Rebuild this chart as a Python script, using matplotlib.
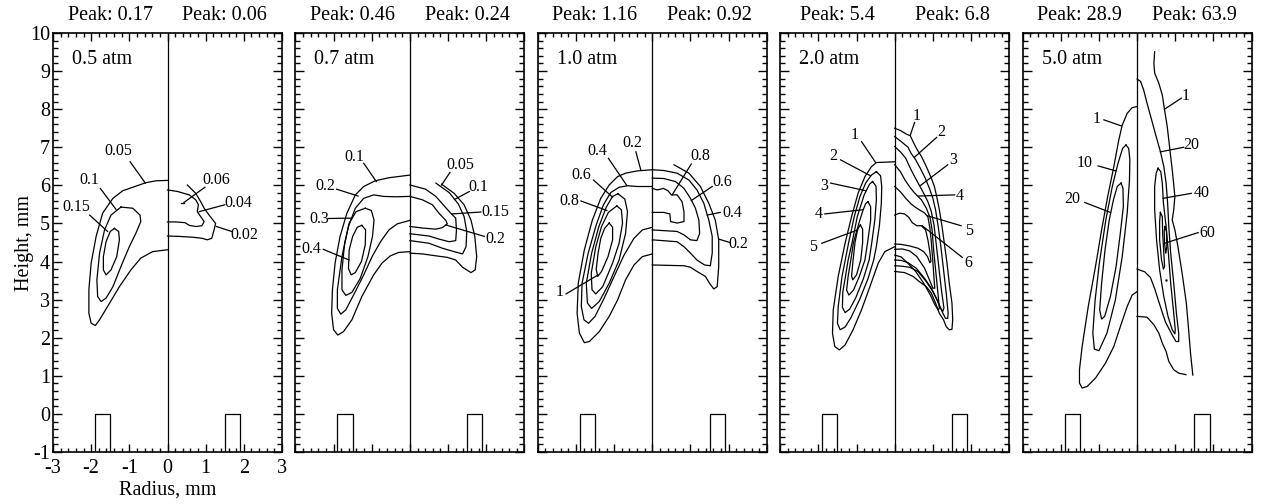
import matplotlib
matplotlib.use("Agg")
import matplotlib.pyplot as plt
from matplotlib.ticker import MultipleLocator

plt.rcParams['font.family'] = ['Liberation Serif', 'DejaVu Serif']
plt.rcParams['axes.unicode_minus'] = False

# ---------------------------------------------------------------------------
# Panel annotations
# ---------------------------------------------------------------------------
PRESSURES = ["0.5 atm", "0.7 atm", "1.0 atm", "2.0 atm", "5.0 atm"]
PEAK_LEFT = ["0.17", "0.46", "1.16", "5.4", "28.9"]
PEAK_RIGHT = ["0.06", "0.24", "0.92", "6.8", "63.9"]

# electrode edges (mm), mirrored about r = 0, top at z = 0
ELECTRODE_R = [1.5, 1.9]
ELECTRODE_TOP = 0.0

# ---------------------------------------------------------------------------
# Contour lines: (radius, height) in mm
# left half = computed, right half = measured
# ---------------------------------------------------------------------------
P05_LEFT = [
    [(0, 4.31), (-0.39, 4.26), (-0.70, 4.09), (-0.96, 3.78), (-1.26, 3.34), (-1.57, 2.82),
     (-1.78, 2.47), (-1.89, 2.32), (-2.0, 2.38), (-2.06, 2.64), (-2.06, 3.26), (-2.0, 3.96),
     (-1.87, 4.66), (-1.70, 5.27), (-1.43, 5.66), (-1.17, 5.86), (-0.91, 5.95), (-0.57, 6.07),
     (-0.30, 6.12), (0, 6.13)],
    [(-1.22, 5.43), (-0.91, 5.40), (-0.72, 5.22), (-0.70, 5.05), (-0.83, 4.74), (-1.0, 4.39),
     (-1.22, 3.87), (-1.43, 3.34), (-1.61, 3.04), (-1.74, 2.95), (-1.83, 3.08), (-1.85, 3.52),
     (-1.78, 4.22), (-1.65, 4.83), (-1.48, 5.22), (-1.22, 5.43)],
    [(-1.39, 4.87), (-1.28, 4.79), (-1.26, 4.57), (-1.33, 4.13), (-1.48, 3.78), (-1.61, 3.65),
     (-1.68, 3.78), (-1.68, 4.13), (-1.61, 4.52), (-1.50, 4.79), (-1.39, 4.87)],
]
P05_RIGHT = [
    [(0, 4.67), (0.30, 4.66), (0.65, 4.64), (0.91, 4.61), (1.04, 4.57), (1.16, 4.61),
     (1.22, 4.83), (1.26, 5.0), (1.09, 5.22), (0.96, 5.40), (0.87, 5.57), (0.74, 5.79),
     (0.52, 6.01)],
    [(0, 5.88), (0.26, 5.84), (0.57, 5.75), (0.74, 5.62), (0.81, 5.49), (0.78, 5.31),
     (0.87, 5.18), (0.96, 5.05), (0.90, 4.94), (0.74, 4.92), (0.57, 4.95), (0.46, 5.02),
     (0.22, 5.04), (0, 5.04)],
    [(0.35, 5.55), (0.43, 5.55)],
]
LABELS_05 = [
    ("0.05", -1.30, 6.89, -0.98, 6.62, -0.58, 6.06),
    ("0.1", -2.06, 6.14, -1.76, 5.92, -1.35, 5.37),
    ("0.15", -2.39, 5.43, -2.04, 5.22, -1.57, 4.79),
    ("0.06", 1.28, 6.13, 0.98, 5.95, 0.43, 5.55),
    ("0.04", 1.85, 5.53, 1.50, 5.49, 0.83, 5.31),
    ("0.02", 2.0, 4.70, 1.68, 4.79, 1.28, 4.92),
]

P07_LEFT = [
    [(0, 4.26), (-0.29, 4.24), (-0.51, 4.15), (-0.73, 3.96), (-0.95, 3.65), (-1.26, 3.08),
     (-1.52, 2.47), (-1.74, 2.16), (-1.89, 2.07), (-2.0, 2.21), (-2.05, 2.64), (-2.03, 3.26),
     (-1.96, 3.96), (-1.83, 4.66), (-1.65, 5.27), (-1.43, 5.75), (-1.21, 5.97), (-0.91, 6.12),
     (-0.55, 6.20), (0, 6.27)],
    [(0, 5.71), (-0.38, 5.70), (-0.69, 5.71), (-0.95, 5.75), (-1.21, 5.66), (-1.43, 5.40),
     (-1.61, 4.92), (-1.78, 4.13), (-1.90, 3.26), (-1.90, 2.77), (-1.81, 2.62), (-1.68, 2.73),
     (-1.43, 3.21), (-1.21, 3.65), (-0.99, 4.13), (-0.77, 4.52), (-0.55, 4.83), (-0.33, 4.99),
     (0, 5.08)],
    [(-1.17, 5.40), (-1.01, 5.34), (-0.94, 5.09), (-0.98, 4.66), (-1.10, 4.13), (-1.30, 3.56),
     (-1.52, 3.19), (-1.68, 3.11), (-1.78, 3.26), (-1.78, 3.78), (-1.71, 4.48), (-1.59, 5.01),
     (-1.41, 5.31), (-1.17, 5.40)],
    [(-1.26, 4.95), (-1.16, 4.83), (-1.17, 4.44), (-1.27, 4.0), (-1.43, 3.71), (-1.54, 3.65),
     (-1.61, 3.82), (-1.59, 4.31), (-1.50, 4.66), (-1.38, 4.90), (-1.26, 4.95)],
]
P07_RIGHT = [
    [(0.83, 6.03), (1.16, 5.79), (1.42, 5.49), (1.60, 5.09), (1.70, 4.66), (1.75, 4.13),
     (1.71, 3.78), (1.60, 3.71), (1.38, 3.85), (1.20, 4.04), (0.98, 4.11), (0.68, 4.15),
     (0.33, 4.20), (0, 4.22)],
    [(0.68, 6.06), (1.03, 5.81), (1.27, 5.51), (1.42, 5.18), (1.49, 4.79), (1.47, 4.39),
     (1.38, 4.20), (1.16, 4.26), (0.85, 4.35), (0.50, 4.48), (0, 4.55)],
    [(0, 6.01), (0.41, 5.90), (0.68, 5.71), (0.90, 5.46), (1.07, 5.27), (1.20, 5.14),
     (1.22, 4.83), (1.20, 4.55), (1.03, 4.52), (0.76, 4.59), (0.50, 4.67), (0, 4.73)],
    [(0, 5.71), (0.33, 5.62), (0.59, 5.49), (0.76, 5.27), (0.94, 5.08), (0.98, 4.99),
     (0.85, 4.89), (0.68, 4.85), (0.33, 4.88), (0, 4.92)],
]
LABELS_07 = [
    ("0.1", -1.45, 6.74, -1.21, 6.58, -0.88, 6.10),
    ("0.2", -2.21, 5.99, -1.92, 5.90, -1.36, 5.72),
    ("0.3", -2.38, 5.11, -2.14, 5.13, -1.52, 5.14),
    ("0.4", -2.59, 4.32, -2.27, 4.32, -1.59, 4.04),
    ("0.05", 1.31, 6.54, 1.05, 6.34, 0.83, 6.01),
    ("0.1", 1.80, 5.97, 1.56, 5.84, 1.17, 5.63),
    ("0.15", 2.24, 5.29, 1.86, 5.30, 1.10, 5.25),
    ("0.2", 2.24, 4.59, 1.95, 4.66, 0.94, 4.96),
]

P10_LEFT = [
    [(0, 6.41), (-0.39, 6.38), (-0.70, 6.32), (-0.91, 6.23), (-1.13, 6.01), (-1.35, 5.66),
     (-1.57, 5.09), (-1.78, 4.31), (-1.94, 3.43), (-1.97, 2.64), (-1.91, 2.12), (-1.78, 1.87),
     (-1.65, 1.90), (-1.39, 2.16), (-1.13, 2.56), (-0.91, 2.99), (-0.70, 3.52), (-0.48, 3.91),
     (-0.26, 4.13), (0, 4.20)],
    [(0, 5.97), (-0.39, 5.97), (-0.65, 5.99), (-0.87, 5.95), (-1.09, 5.81), (-1.28, 5.49),
     (-1.47, 4.96), (-1.68, 4.22), (-1.84, 3.43), (-1.86, 2.82), (-1.79, 2.47), (-1.67, 2.38),
     (-1.50, 2.56), (-1.26, 3.04), (-1.0, 3.61), (-0.74, 4.17), (-0.48, 4.61), (-0.26, 4.83),
     (0, 4.90)],
    [(-0.90, 5.78), (-0.72, 5.64), (-0.65, 5.31), (-0.70, 4.74), (-0.87, 4.04), (-1.13, 3.43),
     (-1.39, 2.95), (-1.59, 2.77), (-1.70, 2.91), (-1.73, 3.43), (-1.59, 4.22), (-1.40, 4.92),
     (-1.20, 5.44), (-1.04, 5.71), (-0.90, 5.78)],
    [(-0.93, 5.46), (-0.81, 5.36), (-0.78, 5.01), (-0.87, 4.48), (-1.04, 3.96), (-1.30, 3.34),
     (-1.48, 3.15), (-1.58, 3.26), (-1.60, 3.69), (-1.48, 4.39), (-1.33, 4.92), (-1.15, 5.29),
     (-0.93, 5.46)],
    [(-1.13, 5.01), (-1.04, 4.90), (-1.04, 4.57), (-1.16, 4.13), (-1.33, 3.74), (-1.43, 3.61),
     (-1.47, 3.79), (-1.42, 4.22), (-1.35, 4.61), (-1.25, 4.87), (-1.13, 5.01)],
]
P10_RIGHT = [
    [(0.57, 6.54), (0.96, 6.32), (1.26, 5.97), (1.48, 5.53), (1.65, 5.09), (1.74, 4.57),
     (1.74, 3.87), (1.70, 3.34), (1.61, 3.28), (1.50, 3.43), (1.39, 3.61), (1.17, 3.74),
     (1.0, 3.85), (0.83, 3.89), (0, 3.91)],
    [(0, 6.41), (0.30, 6.39), (0.65, 6.32), (0.96, 6.14), (1.17, 5.88), (1.35, 5.53),
     (1.48, 5.09), (1.57, 4.66), (1.57, 4.22), (1.52, 3.89), (1.37, 3.91), (1.17, 4.04),
     (1.0, 4.22), (0.83, 4.39), (0.65, 4.52), (0, 4.57)],
    [(0, 6.19), (0.30, 6.18), (0.61, 6.10), (0.83, 5.92), (1.0, 5.66), (1.13, 5.40),
     (1.22, 5.09), (1.24, 4.74), (1.17, 4.55), (1.0, 4.57), (0.83, 4.70), (0.65, 4.79),
     (0, 4.83)],
    [(0, 5.92), (0.13, 5.88), (0.29, 5.92), (0.41, 5.86), (0.50, 5.75), (0.65, 5.75),
     (0.78, 5.57), (0.83, 5.31), (0.83, 5.05), (0.65, 5.01), (0.48, 5.05), (0.46, 5.25),
     (0.30, 5.29), (0, 5.29)],
]
LABELS_10 = [
    ("0.2", -0.52, 7.10, -0.43, 6.88, -0.30, 6.40),
    ("0.4", -1.43, 6.89, -1.15, 6.71, -0.67, 6.0),
    ("0.6", -1.87, 6.27, -1.54, 6.14, -1.04, 5.69),
    ("0.8", -2.17, 5.60, -1.87, 5.59, -1.19, 5.34),
    ("1", -2.43, 3.19, -2.26, 3.15, -1.42, 3.65),
    ("0.8", 1.26, 6.76, 1.02, 6.56, 0.52, 5.75),
    ("0.6", 1.83, 6.10, 1.57, 5.97, 1.02, 5.60),
    ("0.4", 2.09, 5.27, 1.78, 5.29, 1.44, 5.22),
    ("0.2", 2.26, 4.46, 2.03, 4.50, 1.74, 4.59),
]

P20_LEFT = [
    [(0, 6.62), (-0.22, 6.61), (-0.48, 6.60), (-0.61, 6.49), (-0.78, 6.23), (-0.96, 5.79),
     (-1.13, 5.18), (-1.30, 4.48), (-1.48, 3.61), (-1.61, 2.73), (-1.63, 2.12), (-1.57, 1.77),
     (-1.45, 1.68), (-1.30, 1.81), (-1.09, 2.21), (-0.87, 2.73), (-0.65, 3.34), (-0.43, 3.96),
     (-0.26, 4.26), (0, 4.39)],
    [(-0.48, 6.36), (-0.37, 6.25), (-0.34, 5.97), (-0.35, 5.53), (-0.40, 4.95), (-0.48, 4.40),
     (-0.55, 4.04), (-0.70, 3.55), (-0.92, 3.0), (-1.15, 2.52), (-1.30, 2.28), (-1.43, 2.21),
     (-1.50, 2.38), (-1.48, 2.82), (-1.38, 3.61), (-1.21, 4.48), (-1.06, 5.18), (-0.91, 5.71),
     (-0.76, 6.06), (-0.61, 6.27), (-0.48, 6.36)],
    [(-0.58, 6.10), (-0.49, 5.98), (-0.48, 5.62), (-0.52, 5.10), (-0.60, 4.50), (-0.67, 4.04),
     (-0.82, 3.55), (-1.02, 3.05), (-1.18, 2.75), (-1.30, 2.66), (-1.37, 2.80), (-1.36, 3.20),
     (-1.29, 3.61), (-1.22, 4.04), (-1.12, 4.48), (-0.98, 5.18), (-0.80, 5.75), (-0.66, 6.03),
     (-0.58, 6.10)],
    [(-0.70, 5.57), (-0.63, 5.44), (-0.63, 5.09), (-0.70, 4.57), (-0.78, 4.04), (-0.93, 3.60),
     (-1.08, 3.25), (-1.20, 3.12), (-1.26, 3.25), (-1.22, 3.61), (-1.15, 4.04), (-1.08, 4.50),
     (-0.94, 5.0), (-0.83, 5.35), (-0.76, 5.52), (-0.70, 5.57)],
    [(-0.90, 4.96), (-0.84, 4.85), (-0.84, 4.50), (-0.89, 4.04), (-1.0, 3.65), (-1.10, 3.52),
     (-1.13, 3.62), (-1.09, 4.04), (-1.04, 4.50), (-0.97, 4.85), (-0.90, 4.96)],
]
P20_RIGHT = [
    [(0, 7.50), (0.15, 7.44), (0.30, 7.35), (0.41, 7.30), (0.48, 7.15), (0.57, 6.97),
     (0.70, 6.76), (0.83, 6.49), (0.96, 6.19), (1.04, 5.97), (1.10, 5.71), (1.17, 5.36),
     (1.24, 4.92), (1.30, 4.48), (1.37, 3.96), (1.43, 3.43), (1.50, 2.91), (1.52, 2.47),
     (1.50, 2.22), (1.43, 2.21), (1.35, 2.29), (1.28, 2.47), (1.17, 2.64), (1.07, 2.91),
     (0.96, 3.17), (0.83, 3.34), (0.65, 3.47), (0.48, 3.61), (0.26, 3.71), (0, 3.74)],
    [(0, 7.28), (0.17, 7.15), (0.35, 7.0), (0.43, 6.84), (0.55, 6.67), (0.67, 6.45),
     (0.80, 6.19), (0.91, 5.92), (1.0, 5.66), (1.07, 5.36), (1.14, 4.92), (1.21, 4.39),
     (1.28, 3.78), (1.35, 3.17), (1.40, 2.64), (1.39, 2.51), (1.33, 2.51), (1.24, 2.69),
     (1.13, 2.95), (1.0, 3.21), (0.83, 3.47), (0.61, 3.74), (0.39, 3.85), (0.17, 3.88),
     (0, 3.89)],
    [(0, 7.02), (0.15, 6.88), (0.29, 6.71), (0.39, 6.49), (0.50, 6.27), (0.63, 6.03),
     (0.76, 5.79), (0.87, 5.57), (0.96, 5.31), (1.03, 4.96), (1.09, 4.44), (1.16, 3.82),
     (1.23, 3.21), (1.29, 2.78), (1.26, 2.69), (1.19, 2.80), (1.09, 3.04), (0.96, 3.30),
     (0.78, 3.56), (0.57, 3.82), (0.35, 3.97), (0.17, 4.03), (0, 4.04)],
    [(0, 6.54), (0.15, 6.36), (0.27, 6.14), (0.40, 5.95), (0.52, 5.80), (0.70, 5.62),
     (0.83, 5.40), (0.93, 5.14), (0.98, 4.83), (1.02, 4.31), (1.08, 3.70), (1.14, 3.09),
     (1.17, 2.78), (1.14, 2.73), (1.05, 2.87), (0.93, 3.13), (0.76, 3.43), (0.55, 3.74),
     (0.35, 3.95), (0.17, 4.12), (0, 4.17)],
    [(0, 5.97), (0.15, 5.83), (0.29, 5.66), (0.43, 5.51), (0.55, 5.42), (0.66, 5.35),
     (0.78, 5.28), (0.87, 5.17), (0.92, 4.90), (0.96, 4.50), (1.0, 4.0), (1.03, 3.55),
     (1.05, 3.30), (1.0, 3.30), (0.91, 3.52), (0.78, 3.83), (0.58, 4.13), (0.39, 4.28),
     (0.20, 4.33), (0, 4.32)],
    [(0, 5.22), (0.13, 5.27), (0.26, 5.25), (0.37, 5.16), (0.46, 5.02), (0.58, 4.94),
     (0.70, 4.94), (0.81, 4.83), (0.87, 4.57), (0.92, 4.26), (0.95, 4.0), (0.92, 3.97),
     (0.86, 4.13), (0.76, 4.26), (0.61, 4.35), (0.39, 4.41), (0.17, 4.45), (0, 4.46)],
]
LABELS_20 = [
    ("1", -1.04, 7.32, -0.87, 7.15, -0.50, 6.60),
    ("2", -1.61, 6.76, -1.42, 6.67, -0.63, 6.25),
    ("3", -1.84, 5.99, -1.68, 6.06, -0.76, 5.86),
    ("4", -2.0, 5.25, -1.83, 5.25, -0.84, 5.36),
    ("5", -2.13, 4.39, -1.91, 4.48, -0.97, 4.83),
    ("1", 0.57, 7.81, 0.52, 7.65, 0.41, 7.32),
    ("2", 1.22, 7.41, 1.10, 7.26, 0.52, 6.74),
    ("3", 1.52, 6.67, 1.39, 6.54, 0.68, 6.0),
    ("4", 1.71, 5.72, 1.57, 5.75, 0.63, 5.72),
    ("5", 1.94, 4.79, 1.74, 4.94, 0.86, 5.20),
    ("6", 1.94, 3.96, 1.77, 4.11, 0.72, 4.94),
]

P50_LEFT = [
    [(0, 8.07), (-0.13, 8.04), (-0.26, 7.89), (-0.39, 7.58), (-0.48, 7.19), (-0.61, 6.49),
     (-0.77, 5.71), (-0.93, 4.83), (-1.09, 3.87), (-1.28, 2.82), (-1.44, 1.77), (-1.51, 1.16),
     (-1.51, 0.81), (-1.44, 0.68), (-1.31, 0.72), (-1.09, 0.94), (-0.83, 1.33), (-0.61, 1.77),
     (-0.44, 2.29), (-0.26, 2.82), (-0.13, 3.12), (0, 3.21)],
    [(-0.29, 7.06), (-0.22, 6.97), (-0.19, 6.67), (-0.20, 6.14), (-0.26, 5.27), (-0.39, 4.13),
     (-0.57, 2.99), (-0.79, 2.12), (-1.0, 1.66), (-1.12, 1.70), (-1.16, 2.12), (-1.10, 2.99),
     (-0.99, 3.95), (-0.82, 5.09), (-0.65, 5.97), (-0.50, 6.58), (-0.38, 6.97), (-0.29, 7.06)],
    [(-0.42, 6.06), (-0.37, 5.92), (-0.36, 5.44), (-0.44, 4.74), (-0.55, 3.87), (-0.70, 3.08),
     (-0.85, 2.56), (-0.93, 2.49), (-0.98, 2.73), (-0.93, 3.43), (-0.84, 4.31), (-0.73, 5.09),
     (-0.62, 5.62), (-0.52, 5.97), (-0.42, 6.06)],
]
P50_RIGHT = [
    [(0.46, 9.51), (0.44, 9.21), (0.46, 8.95), (0.57, 8.68), (0.66, 8.37), (0.72, 7.98),
     (0.79, 7.54), (0.85, 7.02), (0.93, 6.32), (0.99, 5.71), (0.96, 5.36), (0.92, 5.09),
     (0.99, 4.83), (1.07, 4.39), (1.18, 3.69), (1.29, 2.91), (1.35, 2.21), (1.40, 1.59),
     (1.46, 1.02)],
    [(0, 2.56), (0.26, 2.54), (0.44, 2.34), (0.57, 2.12), (0.66, 1.86), (0.76, 1.64),
     (0.83, 1.38), (0.96, 1.16), (1.09, 1.07), (1.28, 1.03)],
    [(0, 8.79), (0.09, 8.73), (0.17, 8.51), (0.26, 8.16), (0.38, 7.72), (0.50, 7.28),
     (0.61, 6.89), (0.70, 6.49), (0.76, 6.06), (0.80, 5.53), (0.83, 4.92), (0.88, 4.22),
     (0.96, 3.43), (1.03, 2.64), (1.09, 2.12), (1.09, 1.90), (1.02, 1.90), (0.92, 2.07),
     (0.74, 2.42), (0.58, 2.91), (0.46, 3.29), (0.35, 3.58), (0.20, 3.73), (0, 3.80)],
    [(0.55, 6.45), (0.62, 6.36), (0.66, 6.06), (0.69, 5.53), (0.76, 4.92), (0.82, 4.22),
     (0.88, 3.43), (0.96, 2.64), (1.0, 2.21), (0.99, 2.10), (0.92, 2.21), (0.81, 2.56),
     (0.70, 3.08), (0.59, 3.78), (0.51, 4.57), (0.46, 5.36), (0.46, 5.97), (0.50, 6.32),
     (0.55, 6.45)],
    [(0.61, 5.29), (0.66, 5.18), (0.67, 4.74), (0.70, 4.22), (0.72, 3.87), (0.69, 3.80),
     (0.64, 4.04), (0.59, 4.57), (0.59, 5.05), (0.61, 5.29)],
    [(0.73, 4.92), (0.77, 4.79), (0.78, 4.39), (0.75, 4.22), (0.72, 4.48), (0.71, 4.79),
     (0.73, 4.92)],
]
P50_DOT = (0.76, 3.52)
LABELS_50 = [
    ("1", -1.05, 7.74, -0.87, 7.72, -0.41, 7.56),
    ("10", -1.37, 6.60, -1.02, 6.51, -0.56, 6.38),
    ("20", -1.70, 5.64, -1.37, 5.55, -0.70, 5.29),
    ("1", 1.28, 8.35, 1.16, 8.29, 0.72, 8.0),
    ("20", 1.42, 7.06, 1.22, 7.0, 0.61, 6.88),
    ("40", 1.70, 5.79, 1.42, 5.79, 0.68, 5.66),
    ("60", 1.83, 4.76, 1.60, 4.76, 0.72, 4.48),
]

PANEL_CURVES = [P05_LEFT + P05_RIGHT, P07_LEFT + P07_RIGHT, P10_LEFT + P10_RIGHT,
                P20_LEFT + P20_RIGHT, P50_LEFT + P50_RIGHT]
PANEL_LABELS = [LABELS_05, LABELS_07, LABELS_10, LABELS_20, LABELS_50]

# ---------------------------------------------------------------------------
# Figure
# ---------------------------------------------------------------------------
W, H = 1262, 504
fig = plt.figure(figsize=(W / 100, H / 100), dpi=100)

LW = 0.9
BIG = 14.5
SMALL = 11.5

for i in range(5):
    left_px = 53 + i * 242.4
    ax = fig.add_axes([left_px / W, (H - 452) / H, 229 / W, 419 / H])
    ax.set_xlim(-3, 3)
    ax.set_ylim(-1, 10)

    ax.xaxis.set_major_locator(MultipleLocator(1))
    ax.xaxis.set_minor_locator(MultipleLocator(0.2))
    ax.yaxis.set_major_locator(MultipleLocator(1))
    ax.yaxis.set_minor_locator(MultipleLocator(0.2))
    ax.tick_params(which='both', direction='in', top=True, right=True, width=1.0)
    ax.tick_params(axis='y', which='major', length=6.5)
    ax.tick_params(axis='y', which='minor', length=3.6)
    ax.tick_params(axis='x', which='major', length=5.5)
    ax.tick_params(axis='x', which='minor', length=3.0)
    for sp in ax.spines.values():
        sp.set_linewidth(1.2)

    if i == 0:
        ax.tick_params(axis='x', labelsize=BIG, pad=5)
        ax.tick_params(axis='y', labelsize=BIG, pad=2)
    else:
        ax.tick_params(labelleft=False, labelbottom=False)

    # symmetry axis and electrodes
    ax.axvline(0, color='k', lw=LW)
    r0, r1 = ELECTRODE_R
    for s in (-1, 1):
        ax.plot([s * r0, s * r0, s * r1, s * r1], [-1, ELECTRODE_TOP, ELECTRODE_TOP, -1],
                color='k', lw=LW)

    for pts in PANEL_CURVES[i]:
        xs, ys = zip(*pts)
        ax.plot(xs, ys, color='k', lw=LW, solid_joinstyle='round')

    for text, tx, ty, x0, y0, x1, y1 in PANEL_LABELS[i]:
        ax.plot([x0, x1], [y0, y1], color='k', lw=LW)
        ax.text(tx, ty, text, ha='center', va='center', fontsize=SMALL)

    if i == 4:
        ax.plot([P50_DOT[0]], [P50_DOT[1]], 'k.', ms=1.5)

    ax.text(-2.5, 9.19, PRESSURES[i], ha='left', va='baseline', fontsize=BIG)
    ax.text(-1.5, 10.33, f"Peak: {PEAK_LEFT[i]}", ha='center', va='baseline',
            fontsize=BIG, clip_on=False)
    ax.text(1.5, 10.33, f"Peak: {PEAK_RIGHT[i]}", ha='center', va='baseline',
            fontsize=BIG, clip_on=False)

fig.text(25 / W, (H - 243) / H, "Height, mm", rotation=90, ha='center', va='center',
         fontsize=BIG)
fig.text(168 / W, (H - 490) / H, "Radius, mm", ha='center', va='center', fontsize=BIG)

fig.savefig("out.png", dpi=100)
